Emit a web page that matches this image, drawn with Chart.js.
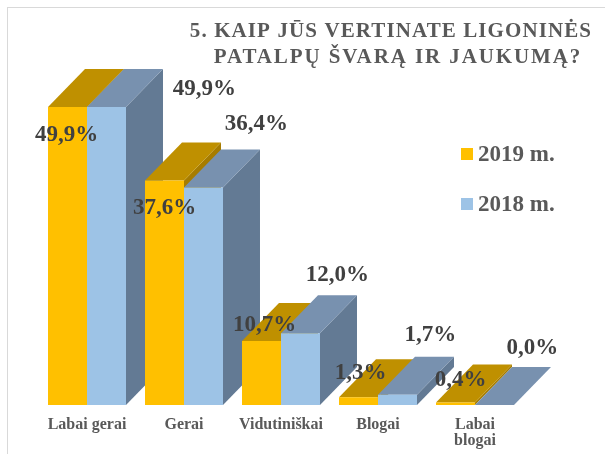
<!DOCTYPE html>
<html>
<head>
<meta charset="utf-8">
<script src="https://cdn.jsdelivr.net/npm/chart.js@4"></script>
<style>
  html, body { margin: 0; padding: 0; background: #fff; }
  #wrap { width: 605px; height: 454px; }
</style>
</head>
<body>
<div id="wrap"><canvas id="chart" width="605" height="454"></canvas></div>
<script>
// data
const categories = ['Labai gerai', 'Gerai', 'Vidutiniškai', 'Blogai', ['Labai', 'blogai']];
const seriesNames = ['2019 m.', '2018 m.'];
const values2019 = [49.9, 37.6, 10.7, 1.3, 0.4];
const values2018 = [49.9, 36.4, 12.0, 1.7, 0.0];
const titleLines = ['5. KAIP JŪS VERTINATE LIGONINĖS', 'PATALPŲ ŠVARĄ IR JAUKUMĄ?'];

// look
const serif = "'Liberation Serif', 'Times New Roman', serif";
const frontColors = ['#FFC000', '#9DC3E6'];
const topColors = ['#BF9000', '#7891AF'];
const sideColors = ['#A67C00', '#637A94'];
const depthX = 37, depthY = 38;
// where each value label sits, relative to the top-front centre of its bar
const labelShift = [
  [[-1, 34], [0, 34], [3, -10], [2, -18], [5, -17]],
  [[98, -12], [53, -58], [37, -52], [33, -54], [38, -51]]
];

const fmt = v => v.toFixed(1).replace('.', ',') + '%';

const boxes = {
  id: 'boxes',
  beforeDraw(chart) {
    const c = chart.ctx;
    c.save();
    c.strokeStyle = '#d9d9d9';
    c.lineWidth = 1;
    c.strokeRect(7.5, 7.5, 620, 470);
    c.restore();
  },
  beforeDatasetsDraw(chart) {
    const c = chart.ctx;
    const metas = [chart.getDatasetMeta(0), chart.getDatasetMeta(1)];
    c.save();
    for (let i = 0; i < categories.length; i++) {
      metas.forEach((meta, d) => {
        const bar = meta.data[i];
        const l = bar.x - bar.width / 2, r = bar.x + bar.width / 2;
        const t = bar.y, b = bar.base;
        // side
        c.fillStyle = sideColors[d];
        c.beginPath();
        c.moveTo(r, t); c.lineTo(r + depthX, t - depthY);
        c.lineTo(r + depthX, b - depthY); c.lineTo(r, b);
        c.closePath(); c.fill();
        // top
        c.fillStyle = topColors[d];
        c.beginPath();
        c.moveTo(l, t); c.lineTo(r, t);
        c.lineTo(r + depthX, t - depthY); c.lineTo(l + depthX, t - depthY);
        c.closePath(); c.fill();
      });
    }
    c.restore();
  },
  afterDatasetsDraw(chart) {
    const c = chart.ctx;
    c.save();
    c.font = 'bold 23px ' + serif;
    c.fillStyle = '#404040';
    c.textAlign = 'center';
    c.textBaseline = 'alphabetic';
    chart.data.datasets.forEach((ds, d) => {
      chart.getDatasetMeta(d).data.forEach((bar, i) => {
        const [sx, sy] = labelShift[d][i];
        c.fillText(fmt(ds.data[i]), bar.x + sx, bar.y + sy);
      });
    });
    c.restore();
  },
  afterDraw(chart) {
    const c = chart.ctx;
    c.save();
    // title
    c.font = 'bold 21px ' + serif;
    c.fillStyle = '#595959';
    c.textAlign = 'center';
    c.letterSpacing = '1.1px';
    c.fillText(titleLines[0], 391, 37);
    c.letterSpacing = '1.9px';
    c.fillText(titleLines[1], 398, 63);
    c.letterSpacing = '0px';
    // legend
    c.textAlign = 'left';
    c.font = 'bold 23px ' + serif;
    seriesNames.forEach((name, d) => {
      const y = 148 + d * 50;
      c.fillStyle = frontColors[d];
      c.fillRect(461, y, 12, 12);
      c.fillStyle = '#595959';
      c.fillText(name, 478, y + 13);
    });
    c.restore();
  }
};

new Chart(document.getElementById('chart'), {
  type: 'bar',
  data: {
    labels: categories,
    datasets: [
      { label: seriesNames[0], data: values2019, backgroundColor: frontColors[0] },
      { label: seriesNames[1], data: values2018, backgroundColor: frontColors[1] }
    ]
  },
  options: {
    responsive: false,
    animation: false,
    devicePixelRatio: 1,
    layout: { padding: { left: 38.5, right: 81.5, top: 106.4, bottom: -6.6 } },
    datasets: { bar: { barPercentage: 1, categoryPercentage: 0.804, borderWidth: 0 } },
    plugins: { legend: { display: false }, title: { display: false }, tooltip: { enabled: false } },
    scales: {
      x: {
        grid: { display: false, drawTicks: false },
        border: { display: false },
        ticks: {
          color: '#595959',
          padding: 11,
          maxRotation: 0,
          autoSkip: false,
          font: { family: serif, size: 16, weight: 'bold', lineHeight: 1.05 }
        }
      },
      y: { display: false, min: 0, max: 50 }
    }
  },
  plugins: [boxes]
});
</script>
</body>
</html>
